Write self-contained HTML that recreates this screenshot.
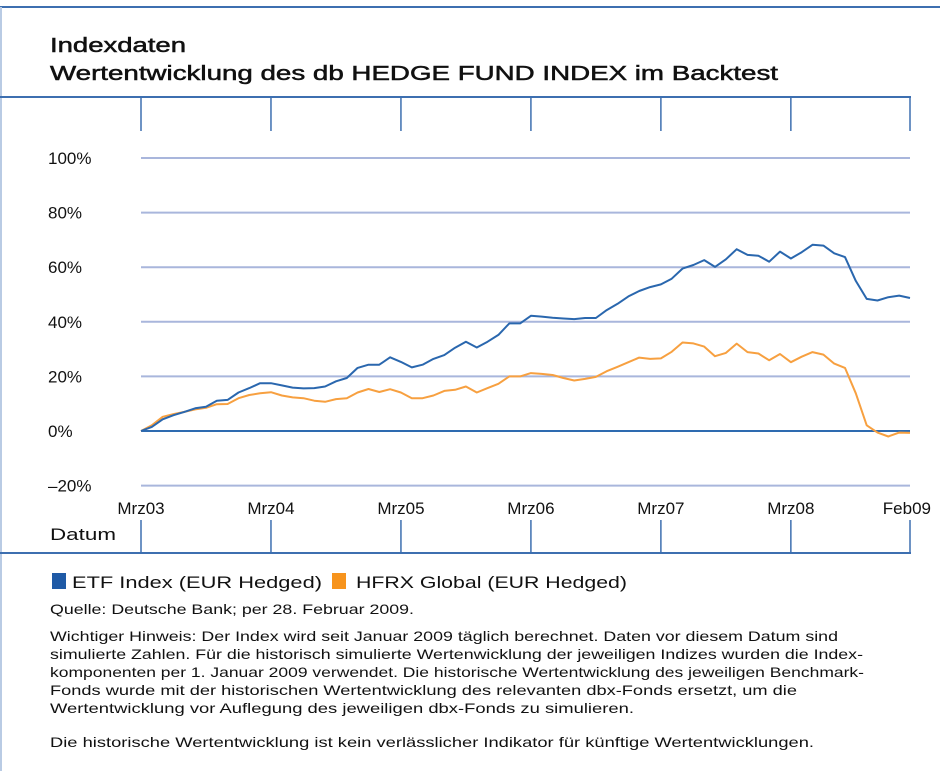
<!DOCTYPE html>
<html><head><meta charset="utf-8"><style>
html,body{margin:0;padding:0;background:#fff;}
svg{display:block;font-family:"Liberation Sans",sans-serif;}
</style></head><body>
<svg width="940" height="771" viewBox="0 0 940 771">
<rect x="0" y="0" width="940" height="771" fill="#fff"/>
<line x1="0" y1="7" x2="940" y2="7" stroke="#3d6fb0" stroke-width="2"/>
<line x1="1" y1="7" x2="1" y2="771" stroke="#b9cbe4" stroke-width="2"/>
<text x="50" y="52" font-size="20" fill="#111" stroke="#111" stroke-width="0.5" textLength="136" lengthAdjust="spacingAndGlyphs">Indexdaten</text>
<text x="50" y="80" font-size="20" fill="#111" stroke="#111" stroke-width="0.5" textLength="728" lengthAdjust="spacingAndGlyphs">Wertentwicklung des db HEDGE FUND INDEX im Backtest</text>
<line x1="0" y1="97" x2="911" y2="97" stroke="#3d6fb0" stroke-width="2"/>
<line x1="0" y1="553" x2="911" y2="553" stroke="#3d6fb0" stroke-width="2"/>
<g id="grid"></g>
<g id="ticks"></g>
<g id="ylabels"></g>
<g id="xlabels"></g>
<g id="series"></g>
<text x="50" y="540" font-size="17" fill="#111" textLength="66" lengthAdjust="spacingAndGlyphs">Datum</text>
<g>
<rect x="52" y="573" width="14" height="16" fill="#1f5aa6"/>
<text x="72" y="588" font-size="17" fill="#111" textLength="250" lengthAdjust="spacingAndGlyphs">ETF Index (EUR Hedged)</text>
<rect x="332" y="573" width="14" height="16" fill="#f7941d"/>
<text x="356" y="588" font-size="17" fill="#111" textLength="271" lengthAdjust="spacingAndGlyphs">HFRX Global (EUR Hedged)</text>
</g>
<g font-size="14" fill="#111">
<text x="50" y="614" textLength="364" lengthAdjust="spacingAndGlyphs">Quelle: Deutsche Bank; per 28. Februar 2009.</text>
<text x="50" y="641" textLength="788" lengthAdjust="spacingAndGlyphs">Wichtiger Hinweis: Der Index wird seit Januar 2009 täglich berechnet. Daten vor diesem Datum sind</text>
<text x="50" y="659" textLength="813" lengthAdjust="spacingAndGlyphs">simulierte Zahlen. Für die historisch simulierte Wertenwicklung der jeweiligen Indizes wurden die Index-</text>
<text x="50" y="677" textLength="814" lengthAdjust="spacingAndGlyphs">komponenten per 1. Januar 2009 verwendet. Die historische Wertentwicklung des jeweiligen Benchmark-</text>
<text x="50" y="695" textLength="747" lengthAdjust="spacingAndGlyphs">Fonds wurde mit der historischen Wertentwicklung des relevanten dbx-Fonds ersetzt, um die</text>
<text x="50" y="713" textLength="584" lengthAdjust="spacingAndGlyphs">Wertentwicklung vor Auflegung des jeweiligen dbx-Fonds zu simulieren.</text>
<text x="50" y="747" textLength="764" lengthAdjust="spacingAndGlyphs">Die historische Wertentwicklung ist kein verlässlicher Indikator für künftige Wertentwicklungen.</text>
</g>
</svg>
<script>
const yTicks = [100, 80, 60, 40, 20, 0, -20];
const yTickLabels = ["100%", "80%", "60%", "40%", "20%", "0%", "\u201320%"];
const xTickMonths = [0, 12, 24, 36, 48, 60, 71];
const xTickLabels = ["Mrz03", "Mrz04", "Mrz05", "Mrz06", "Mrz07", "Mrz08", "Feb09"];
const etfValues = [0,1.5,4.3,5.8,7.0,8.3,8.9,11.1,11.4,14.1,15.7,17.5,17.5,16.7,15.9,15.6,15.7,16.3,18.2,19.4,23.1,24.3,24.3,27.0,25.3,23.3,24.3,26.4,27.8,30.5,32.7,30.6,32.7,35.2,39.4,39.4,42.2,41.9,41.5,41.2,41.0,41.4,41.4,44.3,46.6,49.3,51.3,52.7,53.7,55.8,59.5,60.8,62.6,60.1,62.9,66.6,64.5,64.2,62.0,65.7,63.2,65.5,68.2,67.9,65.1,63.7,55.0,48.4,47.8,49.0,49.6,48.7];
const hfrxValues = [0,2.1,5.2,6.2,7.0,7.9,8.5,9.8,9.9,12.0,13.2,13.8,14.2,13.0,12.3,12.0,11.1,10.7,11.7,12.0,14.1,15.4,14.3,15.3,14.1,12.0,12.0,13.0,14.7,15.1,16.3,14.1,15.7,17.3,20.0,20.0,21.2,20.9,20.5,19.4,18.5,19.1,19.8,21.9,23.5,25.2,26.9,26.4,26.6,29.0,32.4,32.1,30.9,27.4,28.6,32.0,28.9,28.4,25.9,28.2,25.2,27.2,28.9,28.0,24.7,23.1,13.8,2.1,-0.6,-2.0,-0.6,-0.7];

const NS = "http://www.w3.org/2000/svg";
const X0 = 141, X1 = 910, NM = 71;
const xScale = m => X0 + (X1 - X0) * m / NM;
const yScale = v => 431 - v * (273 / 100);
function mk(tag, attrs, parent) {
  const e = document.createElementNS(NS, tag);
  for (const k in attrs) e.setAttribute(k, attrs[k]);
  parent.appendChild(e);
  return e;
}
const grid = document.getElementById('grid');
const ylab = document.getElementById('ylabels');
yTicks.forEach((v, i) => {
  const l = mk('line', {x1: X0, x2: X1, y1: yScale(v), y2: yScale(v), stroke: v === 0 ? '#2e6bb0' : '#a9b6dc', 'stroke-width': 2}, grid);
  
  
  const t = mk('text', {x: 48, y: yScale(v) + 6, 'font-size': 17, fill: '#111'}, ylab);
  t.textContent = yTickLabels[i];
  
  
});
const ticks = document.getElementById('ticks');
const xlab = document.getElementById('xlabels');
xTickMonths.forEach((m, i) => {
  const x = xScale(m);
  const a = mk('line', {x1: x, x2: x, y1: 97, y2: 131, stroke: '#3d6fb0', 'stroke-width': 1.5}, ticks);
  
  
  const b = mk('line', {x1: x, x2: x, y1: 520, y2: 553, stroke: '#3d6fb0', 'stroke-width': 1.5}, ticks);
  
  
  const last = i === xTickMonths.length - 1;
  const t = mk('text', {x: last ? 931 : x, y: 514, 'font-size': 17, fill: '#111', 'text-anchor': last ? 'end' : 'middle'}, xlab);
  t.textContent = xTickLabels[i];
  
  
});
const series = document.getElementById('series');
function line(vals, color, name) {
  const d = vals.map((v, i) => (i ? 'L' : 'M') + xScale(i).toFixed(1) + ',' + yScale(v).toFixed(1)).join('');
  const p = mk('path', {d: d, fill: 'none', stroke: color, 'stroke-width': 2, 'stroke-linejoin': 'round'}, series);
  
  
}
line(hfrxValues, '#f7a040', 'hfrx-line');
line(etfValues, '#2a67ae', 'etf-line');
</script>
</body></html>
